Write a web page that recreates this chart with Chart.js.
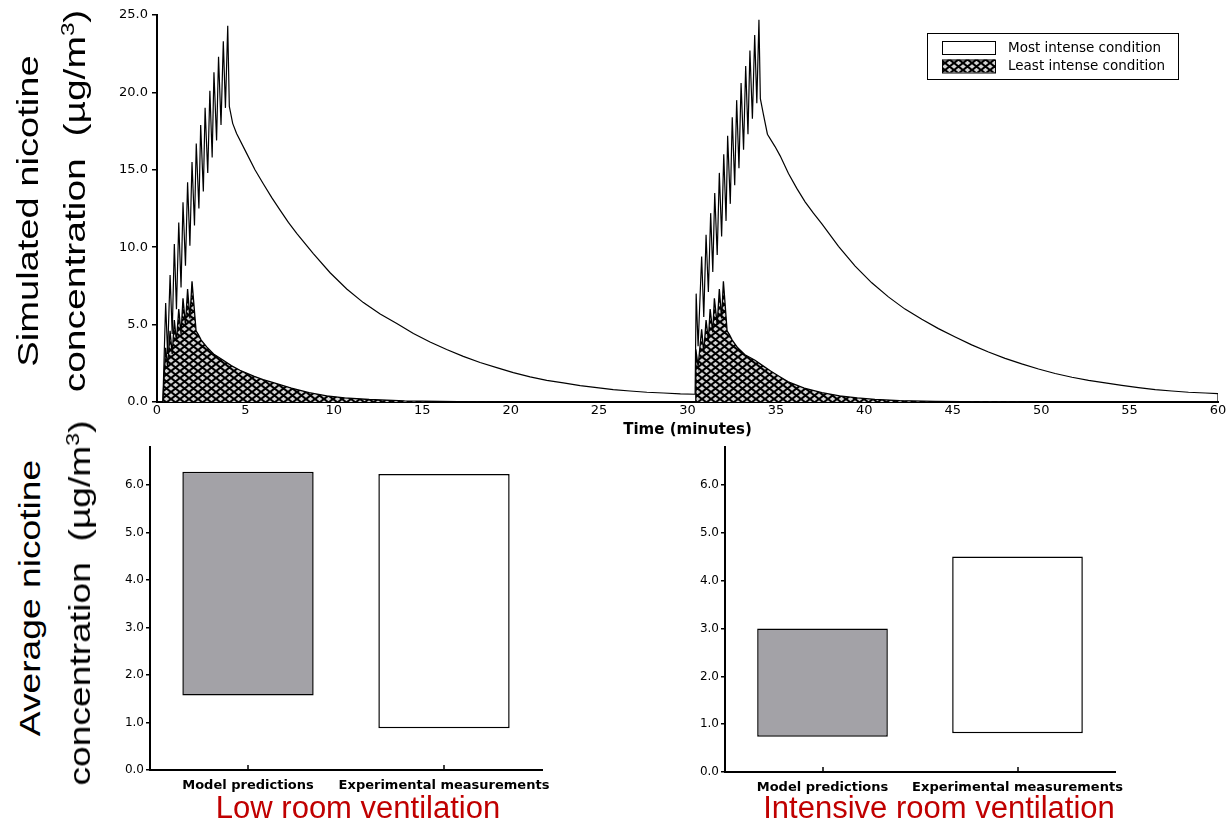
<!DOCTYPE html>
<html>
<head>
<meta charset="utf-8">
<script src="https://cdn.jsdelivr.net/npm/chart.js@4.4.0/dist/chart.umd.min.js"></script>
<style>
  html, body { margin: 0; padding: 0; background: #fff; width: 1226px; height: 823px; overflow: hidden; }
  body { position: relative; font-family: "Liberation Sans", Arial, sans-serif; }
  canvas { position: absolute; }
  .ytitle { position: absolute; white-space: nowrap; font-size: 30px; line-height: 1; color: #000; }
  .ytitle sup { font-size: 0.62em; vertical-align: 0.6em; line-height: 0; }
  .place { position: absolute; font-size: 31px; line-height: 1; color: #c00000; white-space: nowrap; transform: translateX(-50%); }
</style>
</head>
<body>
<canvas id="topChart" width="1226" height="445" style="left:0;top:0"></canvas>
<canvas id="lowChart" width="500" height="380" style="left:100px;top:440px"></canvas>
<canvas id="highChart" width="566" height="380" style="left:660px;top:440px"></canvas>

<div class="ytitle" style="left:28px;top:211px;transform:translate(-50%,-50%) rotate(-90deg) scaleX(1.27)">Simulated nicotine</div>
<div class="ytitle" style="left:75px;top:201px;transform:translate(-50%,-50%) rotate(-90deg) scaleX(1.3)">concentration&nbsp;&nbsp;(µg/m<sup>3</sup>)</div>
<div class="ytitle" style="left:30px;top:598px;transform:translate(-50%,-50%) rotate(-90deg) scaleX(1.24)">Average nicotine</div>
<div class="ytitle" style="left:80px;top:603px;transform:translate(-50%,-50%) rotate(-90deg) scaleX(1.24)">concentration&nbsp;&nbsp;(µg/m<sup>3</sup>)</div>

<div class="place" style="left:358px;top:792px">Low room ventilation</div>
<div class="place" style="left:939px;top:792px">Intensive room ventilation</div>

<script>
// 模拟浓度曲线 [时间(min), 浓度]
const mostIntense = [
  [0.33, 0], [0.49, 6.4], [0.6, 3.1], [0.74, 8.2], [0.86, 4.4], [0.98, 10.2], [1.1, 6.0],
  [1.23, 11.6], [1.36, 7.4], [1.47, 12.9], [1.61, 8.8], [1.73, 14.2], [1.86, 10.1],
  [1.98, 15.5], [2.12, 11.4], [2.22, 16.7], [2.37, 12.5], [2.47, 17.9], [2.62, 13.6],
  [2.72, 19.0], [2.87, 14.8], [2.99, 20.1], [3.12, 15.8], [3.22, 21.3], [3.37, 16.9],
  [3.48, 22.3], [3.62, 17.9], [3.75, 23.3], [3.87, 19.0], [4.0, 24.3], [4.09, 19.1],
  [4.28, 18.0], [4.5, 17.35], [5.07, 16.06], [5.54, 15.0], [6.01, 14.1], [6.49, 13.2],
  [6.96, 12.4], [7.43, 11.6], [7.9, 10.9], [8.84, 9.59], [9.79, 8.35], [10.73, 7.3],
  [11.67, 6.42], [12.62, 5.68], [13.56, 5.07], [14.5, 4.42], [15.44, 3.88], [16.38, 3.39],
  [17.32, 2.95], [18.27, 2.55], [19.21, 2.22], [20.15, 1.9], [21.1, 1.62], [22.04, 1.4],
  [22.98, 1.23], [23.93, 1.06], [24.87, 0.93], [25.8, 0.8], [26.75, 0.71], [27.7, 0.63],
  [28.64, 0.58], [29.6, 0.52], [30.43, 0.5],
  [30.49, 7.0], [30.6, 3.6], [30.8, 9.4], [30.92, 5.5], [31.05, 10.8], [31.18, 7.1],
  [31.31, 12.2], [31.43, 8.4], [31.54, 13.5], [31.68, 9.5], [31.8, 14.8], [31.93, 10.7],
  [32.05, 16.0], [32.18, 11.7], [32.27, 17.2], [32.42, 12.8], [32.53, 18.4], [32.67, 14.0],
  [32.78, 19.5], [32.91, 15.1], [33.03, 20.6], [33.17, 16.3], [33.29, 21.7], [33.42, 17.3],
  [33.53, 22.7], [33.67, 18.3], [33.8, 23.7], [33.92, 19.3], [34.04, 24.7], [34.12, 19.6],
  [34.29, 18.6], [34.52, 17.3], [34.95, 16.5], [35.24, 15.9], [35.71, 14.76], [36.18, 13.8],
  [36.65, 12.93], [37.12, 12.2], [37.6, 11.5], [38.54, 10.06], [39.48, 8.78], [40.42, 7.7],
  [41.36, 6.79], [42.3, 6.0], [43.25, 5.34], [44.19, 4.74], [45.14, 4.2], [46.07, 3.69],
  [47.02, 3.23], [47.96, 2.82], [48.9, 2.46], [49.85, 2.13], [50.79, 1.84], [51.74, 1.6],
  [52.68, 1.4], [53.62, 1.23], [54.56, 1.08], [55.5, 0.93], [56.45, 0.8], [57.39, 0.71],
  [58.33, 0.63], [59.27, 0.58], [60.0, 0.54], [60.0, 0]
];

const leastIntense = [
  [0.33, 0], [0.49, 3.5], [0.6, 2.3], [0.74, 4.6], [0.86, 3.1], [0.98, 5.3], [1.1, 3.9],
  [1.23, 6.0], [1.36, 4.4], [1.47, 6.7], [1.61, 5.0], [1.73, 7.3], [1.86, 5.4], [1.98, 7.8],
  [2.21, 4.6], [2.34, 4.35], [2.5, 4.0], [2.81, 3.56], [3.2, 3.1], [3.75, 2.7], [4.2, 2.35],
  [4.69, 2.05], [5.5, 1.65], [6.0, 1.45], [6.58, 1.25], [7.6, 0.9], [8.6, 0.6], [9.6, 0.4],
  [10.6, 0.27], [12.0, 0.16], [14.0, 0.07], [17.0, 0.02], [20.0, 0], [30.43, 0],
  [30.47, 3.4], [30.6, 2.3], [30.8, 4.7], [30.92, 3.2], [31.05, 5.3], [31.18, 4.0],
  [31.28, 6.0], [31.43, 4.5], [31.52, 6.7], [31.68, 5.0], [31.8, 7.3], [31.93, 5.4],
  [32.03, 7.8], [32.24, 4.6], [32.37, 4.35], [32.53, 4.0], [32.84, 3.5], [33.25, 3.05],
  [33.82, 2.7], [34.25, 2.35], [34.7, 2.0], [35.2, 1.65], [35.7, 1.3], [36.6, 0.9],
  [37.6, 0.6], [38.6, 0.4], [39.6, 0.26], [40.6, 0.17], [42.0, 0.09], [44.0, 0.04],
  [47.0, 0.01], [50.0, 0], [60.0, 0]
];

const seriesLabels = ['Most intense condition', 'Least intense condition'];

// 平均浓度（浮动柱：[下限, 上限]）
const barCategories = ['Model predictions', 'Experimental measurements'];
const lowVentRange = [[1.57, 6.28], [0.88, 6.23]];
const highVentRange = [[0.74, 3.0], [0.81, 4.51]];
const barColors = ['#a3a2a7', '#ffffff'];

const TICK_FONT = 'DejaVu Sans';

/**
 * 交叉网纹填充
 */
function makeCrossHatch() {
  const c = document.createElement('canvas');
  c.width = 9;
  c.height = 7;
  const g = c.getContext('2d');
  g.fillStyle = '#d4d4d4';
  g.fillRect(0, 0, 9, 7);
  g.strokeStyle = '#000';
  g.lineWidth = 2.1;
  g.beginPath();
  g.moveTo(-1, -7 / 9); g.lineTo(10, 7 + 7 / 9);
  g.moveTo(10, -7 / 9); g.lineTo(-1, 7 + 7 / 9);
  g.stroke();
  return g.createPattern(c, 'repeat');
}

// 带边框的图例
const boxLegend = {
  id: 'boxLegend',
  afterDraw(chart) {
    const ctx = chart.ctx;
    const { right, top } = chart.chartArea;
    const x0 = right - 291, y0 = top + 18;
    ctx.save();
    ctx.strokeStyle = '#000';
    ctx.lineWidth = 1;
    ctx.strokeRect(x0 + 0.5, y0 + 0.5, 251, 46);
    chart.data.datasets.forEach((ds, i) => {
      const sy = y0 + 8 + i * 18.5;
      ctx.fillStyle = ds.backgroundColor;
      ctx.fillRect(x0 + 15, sy, 53, 13);
      ctx.strokeRect(x0 + 15.5, sy + 0.5, 53, 13);
      ctx.fillStyle = '#000';
      ctx.font = '13.5px "DejaVu Sans"';
      ctx.textBaseline = 'middle';
      ctx.fillText(ds.label, x0 + 81, sy + 7);
    });
    ctx.restore();
  }
};

// 分类轴向内的小刻度
const innerTicks = {
  id: 'innerTicks',
  afterDraw(chart) {
    const ctx = chart.ctx;
    const xs = chart.scales.x;
    ctx.save();
    ctx.strokeStyle = '#000';
    ctx.lineWidth = 1.5;
    xs.ticks.forEach((t, i) => {
      const px = Math.round(xs.getPixelForTick(i));
      ctx.beginPath();
      ctx.moveTo(px, xs.top);
      ctx.lineTo(px, xs.top - 5);
      ctx.stroke();
    });
    ctx.restore();
  }
};

function toPoints(arr) {
  return arr.map(([x, y]) => ({ x, y }));
}

/**
 * 渲染模拟浓度折线图
 */
function renderTimeline(canvasId) {
  const ctx = document.getElementById(canvasId);
  return new Chart(ctx, {
    type: 'line',
    data: {
      datasets: [
        {
          label: seriesLabels[0],
          data: toPoints(mostIntense),
          borderColor: '#000',
          borderWidth: 1.2,
          backgroundColor: '#ffffff',
          fill: false,
          pointRadius: 0,
          tension: 0
        },
        {
          label: seriesLabels[1],
          data: toPoints(leastIntense),
          borderColor: '#000',
          borderWidth: 1.3,
          backgroundColor: makeCrossHatch(),
          fill: 'origin',
          pointRadius: 0,
          tension: 0
        }
      ]
    },
    options: {
      responsive: false,
      animation: false,
      layout: { padding: { left: 0, top: 15, right: 8, bottom: 0 } },
      scales: {
        x: {
          type: 'linear',
          min: 0,
          max: 60,
          ticks: {
            stepSize: 5,
            color: '#000',
            padding: 1,
            maxRotation: 0,
            autoSkip: false,
            font: { family: TICK_FONT, size: 13 }
          },
          grid: { display: false, drawTicks: false },
          border: { display: true, color: '#000', width: 2 },
          title: {
            display: true,
            text: 'Time (minutes)',
            color: '#000',
            font: { family: TICK_FONT, size: 15, weight: 'bold' },
            padding: { top: 0, bottom: 6 }
          },
          afterFit: s => { s.height = 43; s.paddingLeft = 0; s.paddingRight = 0; }
        },
        y: {
          min: 0,
          max: 25,
          ticks: {
            stepSize: 5,
            color: '#000',
            padding: 4,
            font: { family: TICK_FONT, size: 13 },
            callback: v => v.toFixed(1)
          },
          grid: { display: true, drawOnChartArea: false, tickLength: 5, color: '#000', lineWidth: 1.5 },
          border: { display: true, color: '#000', width: 2 },
          afterFit: s => { s.width = 157; s.paddingTop = 0; s.paddingBottom = 0; }
        }
      },
      plugins: {
        legend: { display: false },
        tooltip: { enabled: false }
      }
    },
    plugins: [boxLegend]
  });
}

/**
 * 渲染平均浓度浮动柱状图
 */
function renderRangeBar(canvasId, ranges, options = {}) {
  const ctx = document.getElementById(canvasId);
  return new Chart(ctx, {
    type: 'bar',
    data: {
      labels: barCategories,
      datasets: [{
        data: ranges,
        backgroundColor: barColors,
        borderColor: '#000',
        borderWidth: 1.5,
        borderSkipped: false,
        barPercentage: 0.67,
        categoryPercentage: 1.0
      }]
    },
    options: {
      responsive: false,
      animation: false,
      layout: { padding: options.padding },
      scales: {
        x: {
          ticks: {
            color: '#000',
            padding: 8,
            maxRotation: 0,
            autoSkip: false,
            font: { family: TICK_FONT, size: 13, weight: 'bold' }
          },
          grid: { display: false, drawTicks: false },
          border: { display: true, color: '#000', width: 2 },
          afterFit: s => { s.height = 25; s.paddingLeft = 0; s.paddingRight = 0; }
        },
        y: {
          min: 0,
          max: 6.8,
          bounds: 'data',
          ticks: {
            stepSize: 1,
            includeBounds: false,
            color: '#000',
            padding: 2,
            font: { family: TICK_FONT, size: 12 },
            callback: v => v.toFixed(1)
          },
          grid: { display: true, drawOnChartArea: false, tickLength: 4, color: '#000', lineWidth: 1.5 },
          border: { display: true, color: '#000', width: 2 },
          afterFit: s => { s.width = options.axisWidth; s.paddingTop = 0; s.paddingBottom = 0; }
        }
      },
      plugins: {
        legend: { display: false },
        tooltip: { enabled: false }
      }
    },
    plugins: [innerTicks]
  });
}

renderTimeline('topChart');
renderRangeBar('lowChart', lowVentRange, {
  axisWidth: 50,
  padding: { left: 0, top: 7, right: 58, bottom: 25 }
});
renderRangeBar('highChart', highVentRange, {
  axisWidth: 65,
  padding: { left: 0, top: 7, right: 111, bottom: 23 }
});
</script>
</body>
</html>
